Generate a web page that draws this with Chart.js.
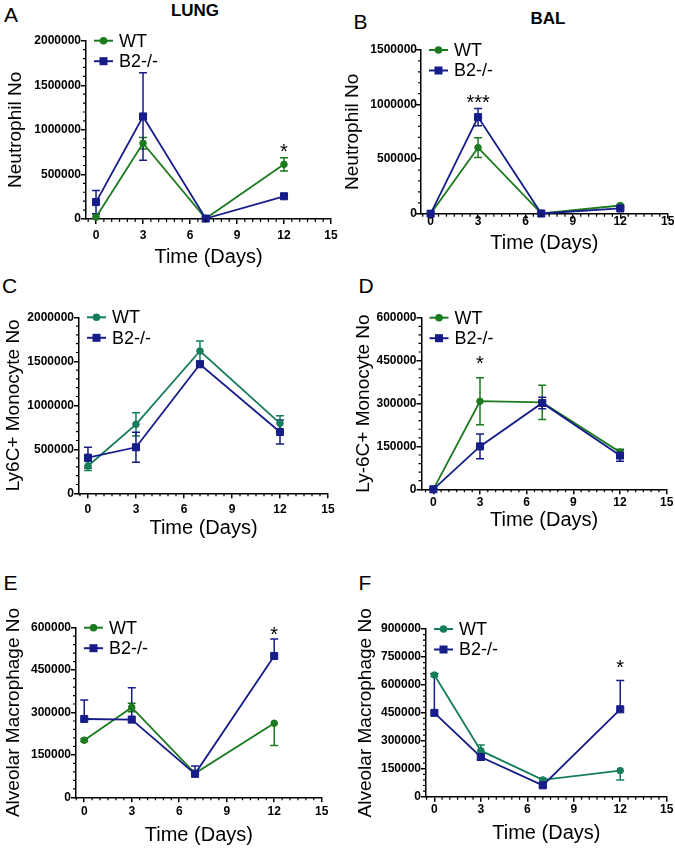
<!DOCTYPE html>
<html>
<head>
<meta charset="utf-8">
<script src="https://cdn.jsdelivr.net/npm/chart.js@4"></script>
<style>
  body { margin: 0; background: #fff; }
  #page { position: relative; width: 675px; height: 848px; overflow: hidden; font-family: "Liberation Sans", Arial, sans-serif; }
  canvas { position: absolute; }
  .lbl { position: absolute; line-height: 1; color: #000; white-space: nowrap; }
  .head { font-weight: bold; font-size: 17px; transform: translateX(-50%); }
  .letter { font-size: 21px; }
</style>
</head>
<body>
<div id="page">
  <div class="lbl head" style="left:195px;top:1.6px">LUNG</div>
  <div class="lbl head" style="left:548px;top:9.6px">BAL</div>
  <div class="lbl letter" style="left:4px;top:3.9px">A</div>
  <div class="lbl letter" style="left:353.5px;top:10.5px">B</div>
  <div class="lbl letter" style="left:2px;top:275px">C</div>
  <div class="lbl letter" style="left:358.5px;top:275px">D</div>
  <div class="lbl letter" style="left:3.5px;top:572px">E</div>
  <div class="lbl letter" style="left:358.5px;top:572px">F</div>
</div>
<script>
const days = [0, 3, 7, 12];
const xTicks = [0, 3, 6, 9, 12, 15];

// A - lung neutrophils
const yTicksA = [0, 500000, 1000000, 1500000, 2000000];
const lungNeutWT = [20000, 850000, 5000, 613000];
const lungNeutWTErr = [30000, 65000, 5000, 75000];
const lungNeutB2 = [190000, 1150000, 5000, 255000];
const lungNeutB2Err = [130000, 490000, 5000, 15000];
const starsA = [[12, 811000, '*']];

// B - BAL neutrophils
const yTicksB = [0, 500000, 1000000, 1500000];
const balNeutWT = [0, 605000, 3000, 75000];
const balNeutWTErr = [2000, 90000, 3000, 8000];
const balNeutB2 = [0, 885000, 2000, 48000];
const balNeutB2Err = [2000, 80000, 2000, 10000];
const starsB = [[3, 1057000, '***']];

// C - lung Ly6C+ monocytes
const yTicksC = [0, 500000, 1000000, 1500000, 2000000];
const lungMonoWT = [310000, 784000, 1617000, 795000];
const lungMonoWTErr = [50000, 132000, 115000, 85000];
const lungMonoB2 = [405000, 523000, 1466000, 697000];
const lungMonoB2Err = [118000, 170000, 30000, 136000];
const starsC = [];

// D - BAL Ly-6C+ monocytes
const yTicksD = [0, 150000, 300000, 450000, 600000];
const balMonoWT = [0, 308000, 304000, 130000];
const balMonoWTErr = [2000, 82000, 60000, 10000];
const balMonoB2 = [0, 150000, 302000, 118000];
const balMonoB2Err = [2000, 43000, 20000, 20000];
const starsD = [[3, 456000, '*']];

// E - lung alveolar macrophages (1 = upper bar only, -1 = lower bar only)
const yTicksE = [0, 150000, 300000, 450000, 600000];
const lungMacWT = [202000, 318000, 85000, 262000];
const lungMacWTErr = [5000, 15000, 10000, 79000];
const lungMacWTDir = [0, 0, 0, -1];
const lungMacB2 = [277000, 275000, 83000, 500000];
const lungMacB2Err = [67000, 113000, 28000, 60000];
const lungMacB2Dir = [1, 1, 1, 1];
const starsE = [[12, 592000, '*']];

// F - BAL alveolar macrophages
const yTicksF = [0, 150000, 300000, 450000, 600000, 750000, 900000];
const balMacWT = [653000, 247000, 90000, 140000];
const balMacWTErr = [8000, 30000, 8000, 50000];
const balMacWTDir = [0, 1, 0, -1];
const balMacB2 = [450000, 213000, 61000, 469000];
const balMacB2Err = [210000, 15000, 10000, 155000];
const balMacB2Dir = [1, 0, 0, 1];
const starsF = [[12, 716000, '*']];

const GREEN = '#1c7a1f';
const TEAL = '#177d59';
const NAVY = '#161c88';
const FONT = '"Liberation Sans", Arial, sans-serif';

const panels = [
  { yTitle: 'Neutrophil No', yTicks: yTicksA, wt: lungNeutWT, wtErr: lungNeutWTErr, b2: lungNeutB2, b2Err: lungNeutB2Err, stars: starsA, wtColor: GREEN,
    box: { L: 86, T: 40.7, R: 331, B: 219, xMin: -0.64, yTitleX: 16, xTitleY: 257, xPad: 6, yPad: 0 } },
  { yTitle: 'Neutrophil No', yTicks: yTicksB, wt: balNeutWT, wtErr: balNeutWTErr, b2: balNeutB2, b2Err: balNeutB2Err, stars: starsB, wtColor: GREEN,
    box: { L: 421, T: 50, R: 667.7, B: 213.7, xMin: -0.61, yTitleX: 353, xTitleY: 243, xPad: -3, yPad: -1 } },
  { yTitle: 'Ly6C+ Monocyte No', yTicks: yTicksC, wt: lungMonoWT, wtErr: lungMonoWTErr, b2: lungMonoB2, b2Err: lungMonoB2Err, stars: starsC, wtColor: TEAL,
    box: { L: 79, T: 317.3, R: 328, B: 493.3, xMin: -0.56, yTitleX: 13.7, xTitleY: 528.3, xPad: 5.7, yPad: 0 } },
  { yTitle: 'Ly-6C+ Monocyte No', yTicks: yTicksD, wt: balMonoWT, wtErr: balMonoWTErr, b2: balMonoB2, b2Err: balMonoB2Err, stars: starsD, wtColor: GREEN,
    box: { L: 421.5, T: 317.7, R: 666.7, B: 489.3, xMin: -0.76, yTitleX: 364, xTitleY: 520.5, xPad: 2.4, yPad: 0 } },
  { yTitle: 'Alveolar Macrophage No', yTicks: yTicksE, wt: lungMacWT, wtErr: lungMacWTErr, wtDir: lungMacWTDir, b2: lungMacB2, b2Err: lungMacB2Err, b2Dir: lungMacB2Dir, stars: starsE, wtColor: GREEN,
    box: { L: 76, T: 627.7, R: 321.7, B: 797.3, xMin: -0.52, yTitleX: 14, xTitleY: 835, xPad: 3.4, yPad: 0 } },
  { yTitle: 'Alveolar Macrophage No', yTicks: yTicksF, wt: balMacWT, wtErr: balMacWTErr, wtDir: balMacWTDir, b2: balMacB2, b2Err: balMacB2Err, b2Dir: balMacB2Dir, stars: starsF, wtColor: TEAL,
    box: { L: 426, T: 629, R: 666.7, B: 796.7, xMin: -0.54, yTitleX: 366, xTitleY: 833.3, xPad: 2.3, yPad: 0 } }
];

// error bars, minor ticks, in-plot legend and significance stars
const extras = {
  id: 'extras',
  beforeDatasetsDraw(chart) {
    const { ctx, scales: { x, y } } = chart;
    chart.data.datasets.forEach(ds => {
      ctx.save();
      ctx.strokeStyle = ds.borderColor;
      ctx.lineWidth = 1.5;
      ctx.beginPath();
      ds.data.forEach((p, i) => {
        const e = ds.err[i];
        const d = ds.errDir ? ds.errDir[i] : 0;
        const px = x.getPixelForValue(p.x);
        const hi = y.getPixelForValue(d < 0 ? p.y : p.y + e);
        const lo = y.getPixelForValue(Math.max(0, d > 0 ? p.y : p.y - e));
        ctx.moveTo(px, hi); ctx.lineTo(px, lo);
        if (d >= 0) { ctx.moveTo(px - 4, hi); ctx.lineTo(px + 4, hi); }
        if (d <= 0 && p.y - e > 0) { ctx.moveTo(px - 4, lo); ctx.lineTo(px + 4, lo); }
      });
      ctx.stroke();
      ctx.restore();
    });
  },
  afterDraw(chart, args, opts) {
    const { ctx, chartArea: a, scales: { x, y } } = chart;
    ctx.save();
    // minor ticks
    ctx.strokeStyle = '#000';
    ctx.lineWidth = 1.2;
    ctx.beginPath();
    const yt = opts.yTicks;
    const minor = (yt[1] - yt[0]) / 5;
    for (let k = 1; k < (yt.length - 1) * 5; k++) {
      if (k % 5 === 0) continue;
      const py = y.getPixelForValue(k * minor);
      ctx.moveTo(a.left - 3, py); ctx.lineTo(a.left, py);
    }
    for (let v = -0.5; v < 15; v += 0.5) {
      if (v % 3 === 0) continue;
      const px = x.getPixelForValue(v);
      ctx.moveTo(px, a.bottom); ctx.lineTo(px, a.bottom + 3);
    }
    ctx.stroke();
    // legend
    chart.data.datasets.forEach((ds, i) => {
      const ly = a.top + i * 20.5;
      ctx.strokeStyle = ds.borderColor;
      ctx.lineWidth = 2;
      ctx.beginPath();
      ctx.moveTo(a.left + 8, ly); ctx.lineTo(a.left + 27, ly);
      ctx.stroke();
      ctx.fillStyle = ds.borderColor;
      if (ds.pointStyle === 'rect') {
        ctx.fillRect(a.left + 17.5 - 4, ly - 4, 8, 8);
      } else {
        ctx.beginPath(); ctx.arc(a.left + 17.5, ly, 3.8, 0, Math.PI * 2); ctx.fill();
      }
      ctx.fillStyle = '#000';
      ctx.font = '18px ' + FONT;
      ctx.textBaseline = 'middle';
      ctx.textAlign = 'left';
      ctx.fillText(ds.label, a.left + 33, ly + 1);
    });
    // stars
    ctx.fillStyle = '#000';
    ctx.font = '20px ' + FONT;
    ctx.textAlign = 'center';
    ctx.textBaseline = 'alphabetic';
    opts.stars.forEach(s => {
      ctx.fillText(s[2], x.getPixelForValue(s[0]), y.getPixelForValue(s[1]) + 11);
    });
    ctx.restore();
  }
};

const page = document.getElementById('page');

panels.forEach(p => {
  const g = p.box;
  const left = Math.floor(g.yTitleX - 13.4);
  const top = Math.floor(g.T - 22);
  const right = Math.ceil(g.R + 14);
  const bottom = Math.ceil(g.xTitleY + 14);
  const cv = document.createElement('canvas');
  cv.width = right - left;
  cv.height = bottom - top;
  cv.style.left = left + 'px';
  cv.style.top = top + 'px';
  page.appendChild(cv);

  const yW = g.L - left;
  const xH = bottom - g.B;
  const yMax = p.yTicks[p.yTicks.length - 1];

  const series = (label, vals, err, dir, color, style, radius, order) => ({
    label, order,
    data: days.map((d, i) => ({ x: d, y: vals[i] })),
    err, errDir: dir,
    borderColor: color, backgroundColor: color,
    pointBackgroundColor: color, pointBorderColor: color,
    borderWidth: 1.8, pointStyle: style, pointRadius: radius, pointBorderWidth: 1,
    tension: 0, clip: false
  });

  new Chart(cv, {
    type: 'line',
    data: {
      datasets: [
        series('WT', p.wt, p.wtErr, p.wtDir, p.wtColor, 'circle', 3.3, 1),
        series('B2-/-', p.b2, p.b2Err, p.b2Dir, NAVY, 'rect', 5, 0)
      ]
    },
    options: {
      responsive: false,
      animation: false,
      devicePixelRatio: 1,
      events: [],
      layout: { padding: { top: g.T - top, right: right - g.R, left: 0, bottom: 0 } },
      plugins: {
        legend: { display: false },
        tooltip: { enabled: false },
        extras: { yTicks: p.yTicks, stars: p.stars }
      },
      scales: {
        x: {
          type: 'linear', min: g.xMin, max: 15, bounds: 'data',
          afterBuildTicks: s => { s.ticks = xTicks.map(v => ({ value: v })); },
          afterFit: s => { s.height = xH; },
          grid: { drawOnChartArea: false, drawTicks: true, tickLength: 5, color: '#000', lineWidth: 1.5 },
          border: { display: true, color: '#000', width: 1.5 },
          ticks: { color: '#000', padding: g.xPad, maxRotation: 0, autoSkip: false,
                   font: { family: FONT, size: 12, weight: 'bold', lineHeight: 1 } },
          title: { display: true, text: 'Time (Days)', color: '#000',
                   font: { family: FONT, size: 20, lineHeight: 1.2 },
                   padding: { top: 0, bottom: bottom - g.xTitleY - 12 } }
        },
        y: {
          type: 'linear', min: 0, max: yMax, bounds: 'data',
          afterBuildTicks: s => { s.ticks = p.yTicks.map(v => ({ value: v })); },
          afterFit: s => { s.width = yW; },
          grid: { drawOnChartArea: false, drawTicks: true, tickLength: 5, color: '#000', lineWidth: 1.5 },
          border: { display: true, color: '#000', width: 1.5 },
          ticks: { color: '#000', padding: g.yPad, callback: v => String(v),
                   font: { family: FONT, size: 12, weight: 'bold', lineHeight: 1 } },
          title: { display: true, text: p.yTitle, color: '#000',
                   font: { family: FONT, size: 19, lineHeight: 1.2 },
                   padding: { top: g.yTitleX - left - 11.4, bottom: 0 } }
        }
      }
    },
    plugins: [extras]
  });
});
</script>
</body>
</html>
